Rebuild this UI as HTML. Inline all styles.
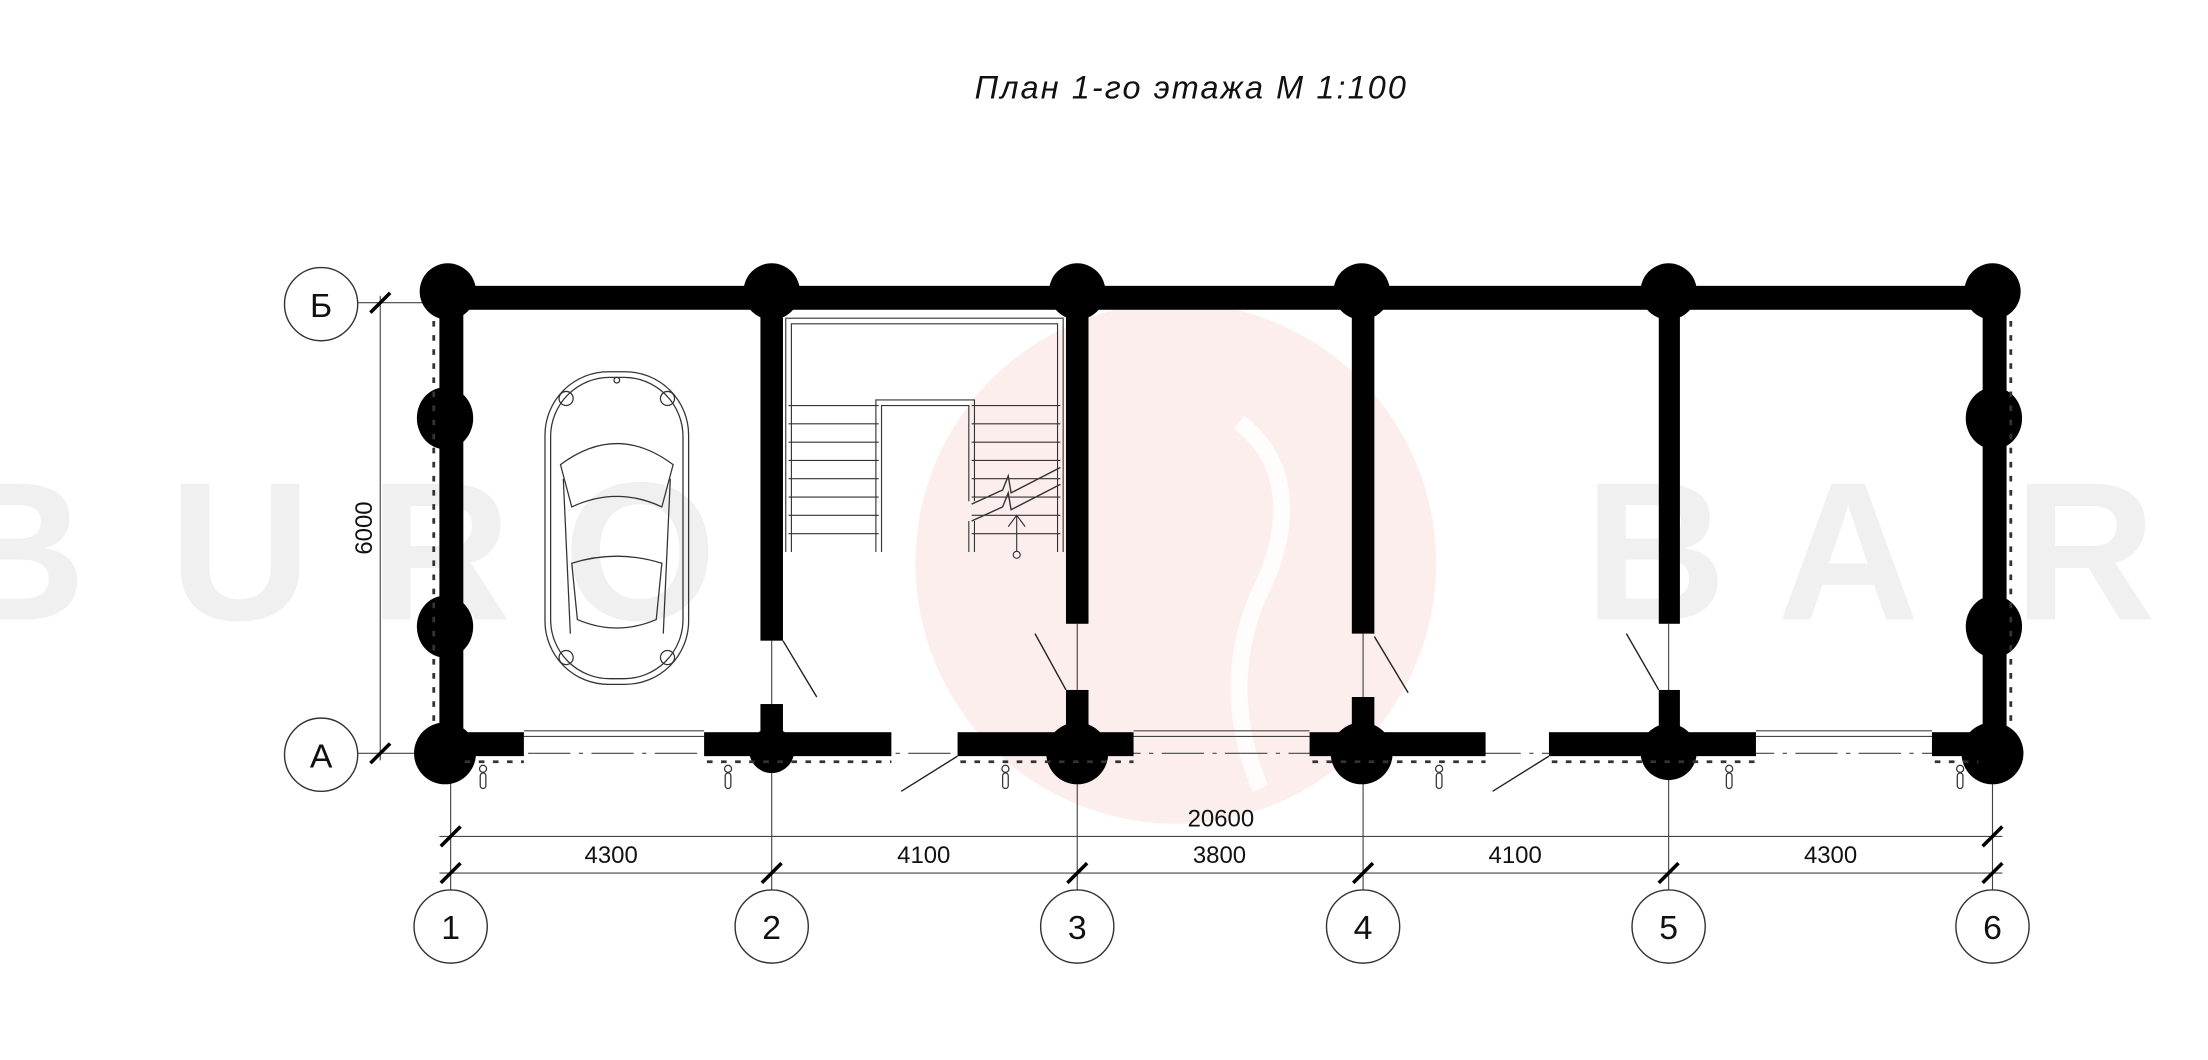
<!DOCTYPE html>
<html><head><meta charset="utf-8"><style>
html,body{margin:0;padding:0;background:#fff;}
svg{display:block;}
text{font-family:"Liberation Sans",sans-serif;}
</style></head><body>
<svg width="2208" height="1060" viewBox="0 0 1568 752.8" xmlns="http://www.w3.org/2000/svg">
<rect width="1568" height="753" fill="#fff"/>
<!-- watermark -->
<circle cx="835" cy="400" r="185" fill="#fdeeee"/>
<path d="M880 300 C920 330 915 380 895 420 C872 470 878 520 895 560" stroke="#fff" stroke-width="12" fill="none" opacity="0.8"/>
<g fill="#f0f0f0" font-size="140" font-family="Liberation Sans" font-weight="bold">
<text x="-40" y="440">B</text><text x="120" y="440">U</text><text x="262" y="440">R</text><text x="400" y="440">O</text>
<text x="1125" y="440">B</text><text x="1262" y="440">A</text><text x="1430" y="440">R</text>
</g>
<!-- title -->
<text x="846" y="70" font-size="23" font-style="italic" text-anchor="middle" fill="#111" letter-spacing="1.5">План 1-го этажа М 1:100</text>

<!-- thin axis lines -->
<g stroke="#444" stroke-width="0.8" fill="none">
<line x1="320" y1="540" x2="320" y2="632"/>
<line x1="548" y1="455" x2="548" y2="632"/>
<line x1="765" y1="443" x2="765" y2="632"/>
<line x1="968" y1="450" x2="968" y2="632"/>
<line x1="1185" y1="443" x2="1185" y2="632"/>
<line x1="1415" y1="540" x2="1415" y2="632"/>
<line x1="254" y1="215" x2="312" y2="215"/>
<line x1="254" y1="535" x2="312" y2="535"/>
<line x1="270" y1="210" x2="270" y2="540"/>
<line x1="312" y1="594" x2="1422" y2="594"/>
<line x1="312" y1="620" x2="1422" y2="620"/>
<line x1="330" y1="535" x2="1410" y2="535" stroke-dasharray="30 6 3 6"/>
<line x1="372" y1="519" x2="500" y2="519"/><line x1="372" y1="523" x2="500" y2="523"/>
<line x1="805" y1="519" x2="930" y2="519"/><line x1="805" y1="523" x2="930" y2="523"/>
<line x1="1247" y1="519" x2="1372" y2="519"/><line x1="1247" y1="523" x2="1372" y2="523"/>
</g>
<!-- ticks -->
<g stroke="#000" stroke-width="2.5">
<line x1="263" y1="222" x2="277" y2="208"/><line x1="263" y1="542" x2="277" y2="528"/>
<line x1="313" y1="601" x2="327" y2="587"/><line x1="1408" y1="601" x2="1422" y2="587"/>
<line x1="313" y1="627" x2="327" y2="613"/><line x1="541" y1="627" x2="555" y2="613"/>
<line x1="758" y1="627" x2="772" y2="613"/><line x1="961" y1="627" x2="975" y2="613"/>
<line x1="1178" y1="627" x2="1192" y2="613"/><line x1="1408" y1="627" x2="1422" y2="613"/>
</g>
<g font-size="17" fill="#111" text-anchor="middle">
<text x="867" y="587">20600</text>
<text x="434" y="613">4300</text><text x="656" y="613">4100</text><text x="866" y="613">3800</text>
<text x="1076" y="613">4100</text><text x="1300" y="613">4300</text>
<text x="0" y="0" transform="translate(264,375) rotate(-90)">6000</text>
</g>
<!-- bubbles -->
<g fill="#fff" stroke="#333" stroke-width="1">
<circle cx="320" cy="658" r="26"/><circle cx="548" cy="658" r="26"/><circle cx="765" cy="658" r="26"/>
<circle cx="968" cy="658" r="26"/><circle cx="1185" cy="658" r="26"/><circle cx="1415" cy="658" r="26"/>
<circle cx="228" cy="216" r="26"/><circle cx="228" cy="536" r="26"/>
</g>
<g font-size="24" fill="#111" text-anchor="middle">
<text x="320" y="667">1</text><text x="548" y="667">2</text><text x="765" y="667">3</text>
<text x="968" y="667">4</text><text x="1185" y="667">5</text><text x="1415" y="667">6</text>
<text x="228" y="225">Б</text><text x="228" y="545">А</text>
</g>

<!-- stairs -->
<g stroke="#333" stroke-width="0.8" fill="none">
<path d="M558 392 V226 H755 V392"/><path d="M562 392 V230 H751 V392"/>
<path d="M622 392 V284 H692 V356"/><path d="M626 392 V288 H688 V356"/><path d="M688 370 V392"/><path d="M692 370 V392"/>
<g>
<line x1="560" y1="288" x2="624" y2="288"/><line x1="560" y1="301" x2="624" y2="301"/><line x1="560" y1="314" x2="624" y2="314"/>
<line x1="560" y1="327" x2="624" y2="327"/><line x1="560" y1="340" x2="624" y2="340"/><line x1="560" y1="353" x2="624" y2="353"/>
<line x1="560" y1="366" x2="624" y2="366"/><line x1="560" y1="379" x2="624" y2="379"/>
<line x1="690" y1="288" x2="753" y2="288"/><line x1="690" y1="301" x2="753" y2="301"/><line x1="690" y1="314" x2="753" y2="314"/>
<line x1="690" y1="327" x2="753" y2="327"/><line x1="690" y1="340" x2="753" y2="340"/><line x1="690" y1="353" x2="753" y2="353"/>
<line x1="690" y1="366" x2="753" y2="366"/><line x1="690" y1="379" x2="753" y2="379"/>
</g>
<path d="M690 358 L712 348 L716 338 L718 350 L753 332" stroke-width="1"/>
<path d="M690 370 L712 360 L716 350 L718 362 L753 344" stroke-width="1"/>
<line x1="722" y1="392" x2="722" y2="366"/><path d="M716 374 L722 366 L728 374"/>
<circle cx="722" cy="394" r="2.5"/>
</g>

<!-- car -->
<g stroke="#333" stroke-width="0.9" fill="none">
<rect x="387" y="264" width="102" height="222" rx="45"/>
<rect x="391" y="268" width="94" height="214" rx="42"/>
<path d="M398 330 Q438 300 478 330 L470 360 Q438 345 406 360 Z"/>
<path d="M400 340 L405 450 M476 340 L471 450"/>
<path d="M406 400 Q438 390 470 400 L466 440 Q438 452 410 440 Z"/>
<circle cx="402" cy="283" r="5"/><circle cx="474" cy="283" r="5"/><circle cx="402" cy="467" r="5"/><circle cx="474" cy="467" r="5"/>
<circle cx="438" cy="270" r="2"/>
</g>

<!-- walls -->
<g fill="#000">
<rect x="318" y="203" width="1100" height="17"/>
<rect x="312" y="210" width="17" height="325"/>
<rect x="1408" y="210" width="17" height="325"/>
<rect x="540" y="210" width="16" height="245"/>
<rect x="757" y="210" width="16" height="233"/>
<rect x="960" y="210" width="16" height="240"/>
<rect x="1178" y="210" width="15" height="233"/>
<rect x="540" y="500" width="16" height="22"/>
<rect x="757" y="490" width="16" height="30"/>
<rect x="960" y="495" width="16" height="25"/>
<rect x="1178" y="490" width="15" height="30"/>
<rect x="318" y="520" width="54" height="17"/>
<rect x="500" y="520" width="133" height="17"/>
<rect x="680" y="520" width="125" height="17"/>
<rect x="930" y="520" width="125" height="17"/>
<rect x="1100" y="520" width="147" height="17"/>
<rect x="1372" y="520" width="46" height="17"/>
<circle cx="318" cy="207" r="20"/><circle cx="548" cy="207" r="20"/><circle cx="765" cy="207" r="20"/>
<circle cx="967" cy="207" r="20"/><circle cx="1185" cy="207" r="20"/><circle cx="1415" cy="207" r="20"/>
<ellipse cx="316" cy="297" rx="20" ry="22"/><ellipse cx="316" cy="445" rx="20" ry="22"/>
<ellipse cx="1416" cy="297" rx="20" ry="22"/><ellipse cx="1416" cy="445" rx="20" ry="22"/>
<circle cx="316" cy="535" r="22"/><circle cx="548" cy="533" r="16"/><circle cx="765" cy="535" r="22"/>
<circle cx="967" cy="535" r="22"/><circle cx="1185" cy="534" r="20"/><circle cx="1415" cy="535" r="22"/>
</g>
<g stroke="#333" stroke-width="2" stroke-dasharray="4 6">
<line x1="308" y1="228" x2="308" y2="512"/><line x1="1428" y1="228" x2="1428" y2="512"/>
<line x1="330" y1="541" x2="372" y2="541"/><line x1="502" y1="541" x2="633" y2="541"/>
<line x1="682" y1="541" x2="805" y2="541"/><line x1="932" y1="541" x2="1055" y2="541"/>
<line x1="1102" y1="541" x2="1247" y2="541"/><line x1="1374" y1="541" x2="1405" y2="541"/>
</g>
<g stroke="#333" stroke-width="0.9" fill="#fff">
<circle cx="343" cy="546" r="2.5"/><rect x="341" y="549" width="4" height="11" rx="2"/>
<circle cx="517" cy="546" r="2.5"/><rect x="515" y="549" width="4" height="11" rx="2"/>
<circle cx="714" cy="546" r="2.5"/><rect x="712" y="549" width="4" height="11" rx="2"/>
<circle cx="1022" cy="546" r="2.5"/><rect x="1020" y="549" width="4" height="11" rx="2"/>
<circle cx="1228" cy="546" r="2.5"/><rect x="1226" y="549" width="4" height="11" rx="2"/>
<circle cx="1392" cy="546" r="2.5"/><rect x="1390" y="549" width="4" height="11" rx="2"/>
</g>
<g stroke="#222" stroke-width="1">
<line x1="556" y1="455" x2="580" y2="495"/><line x1="735" y1="450" x2="757" y2="490"/>
<line x1="976" y1="452" x2="1000" y2="492"/><line x1="1155" y1="450" x2="1178" y2="490"/>
<line x1="680" y1="537" x2="640" y2="562"/><line x1="1100" y1="537" x2="1060" y2="562"/>
</g>
</svg>
</body></html>
